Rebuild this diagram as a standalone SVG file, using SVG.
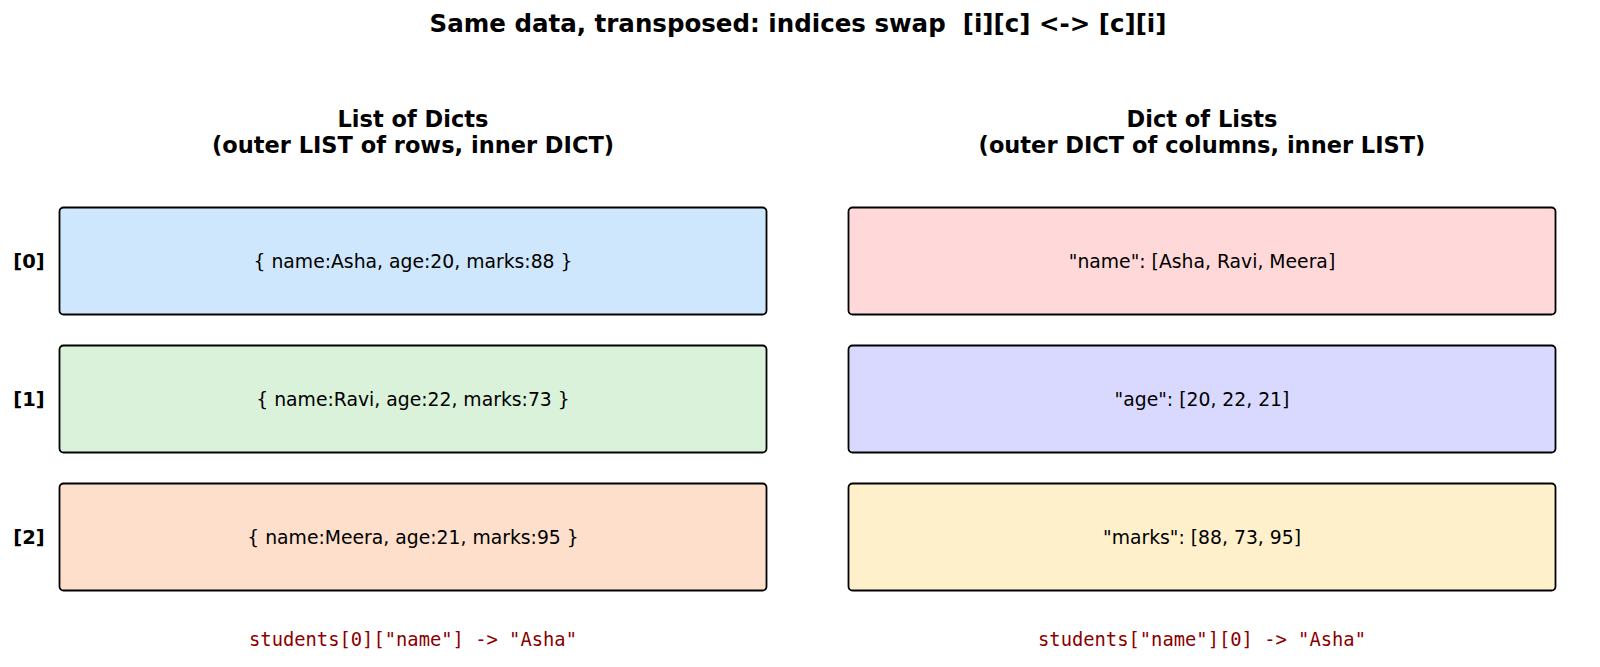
<svg xmlns="http://www.w3.org/2000/svg" width="1600" height="667" viewBox="0 0 1600 667">
<style>
text{font-family:"DejaVu Sans","Liberation Sans",sans-serif;fill:#000;text-anchor:middle;dominant-baseline:central}
.title{font-size:24.5px;font-weight:bold;white-space:pre}
.sub{font-size:22.5px;font-weight:bold}
.idx{font-size:19.5px;font-weight:bold}
.cell{font-size:18.8px}
.code{font-family:"DejaVu Sans Mono","Liberation Mono",monospace;font-size:18.8px;fill:#8b0000}
.box{stroke:#000;stroke-width:1.8}
</style>
<rect width="1600" height="667" fill="#fff"/>
<text class="title" x="798" y="23" xml:space="preserve">Same data, transposed: indices swap  [i][c] &lt;-&gt; [c][i]</text>
<g id="left-header">
<text class="sub" x="413" y="119">List of Dicts</text>
<text class="sub" x="413" y="145">(outer LIST of rows, inner DICT)</text>
</g>
<g id="right-header">
<text class="sub" x="1202" y="119">Dict of Lists</text>
<text class="sub" x="1202" y="145">(outer DICT of columns, inner LIST)</text>
</g>
<g id="row0">
<text class="idx" x="29" y="261">[0]</text>
<rect class="box" x="59.5" y="207.5" width="707" height="107" rx="4" fill="#cfe7fd"/>
<text class="cell" x="413" y="261">{ name:Asha, age:20, marks:88 }</text>
</g>
<g id="row1">
<text class="idx" x="29" y="399">[1]</text>
<rect class="box" x="59.5" y="345.5" width="707" height="107" rx="4" fill="#d9f2d9"/>
<text class="cell" x="413" y="399">{ name:Ravi, age:22, marks:73 }</text>
</g>
<g id="row2">
<text class="idx" x="29" y="537">[2]</text>
<rect class="box" x="59.5" y="483.5" width="707" height="107" rx="4" fill="#fddfcb"/>
<text class="cell" x="413" y="537">{ name:Meera, age:21, marks:95 }</text>
</g>
<g id="col-name">
<rect class="box" x="848.5" y="207.5" width="707" height="107" rx="4" fill="#ffd9d9"/>
<text class="cell" x="1202" y="261">"name": [Asha, Ravi, Meera]</text>
</g>
<g id="col-age">
<rect class="box" x="848.5" y="345.5" width="707" height="107" rx="4" fill="#d9d9ff"/>
<text class="cell" x="1202" y="399">"age": [20, 22, 21]</text>
</g>
<g id="col-marks">
<rect class="box" x="848.5" y="483.5" width="707" height="107" rx="4" fill="#fff0cc"/>
<text class="cell" x="1202" y="537">"marks": [88, 73, 95]</text>
</g>
<g id="connectors"></g>
<text class="code" x="413" y="639">students[0]["name"] -&gt; "Asha"</text>
<text class="code" x="1202" y="639">students["name"][0] -&gt; "Asha"</text>
</svg>
